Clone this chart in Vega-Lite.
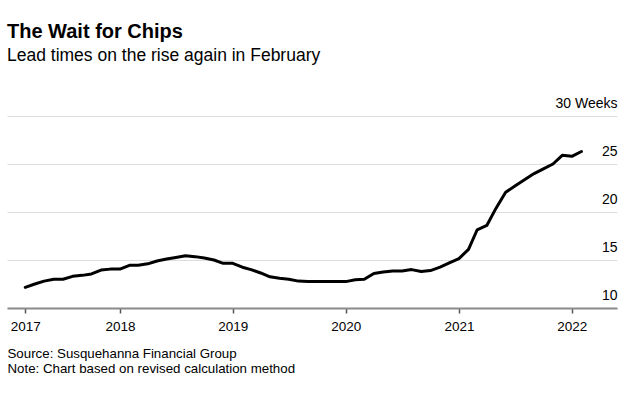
{
  "$schema": "https://vega.github.io/schema/vega-lite/v6.json",
  "width": 610,
  "height": 192,
  "autosize": {"type": "none"},
  "padding": {"left": 7, "top": 116, "right": 18, "bottom": 85},
  "background": "white",
  "config": {
    "font": "Liberation Sans",
    "view": {"stroke": null}
  },
  "title": {
    "text": "The Wait for Chips",
    "subtitle": "Lead times on the rise again in February",
    "anchor": "start",
    "frame": "group",
    "font": "Liberation Sans",
    "fontSize": 20,
    "fontWeight": "bold",
    "color": "#000000",
    "subtitleFont": "Liberation Sans",
    "subtitleFontSize": 17.5,
    "subtitleColor": "#000000",
    "subtitlePadding": 5,
    "offset": 32
  },
  "data": {
    "values": [
      {"date": "2017-03-01", "weeks": 12.15},
      {"date": "2017-04-01", "weeks": 12.5},
      {"date": "2017-05-01", "weeks": 12.8},
      {"date": "2017-06-01", "weeks": 13.0},
      {"date": "2017-07-01", "weeks": 13.0},
      {"date": "2017-08-01", "weeks": 13.3},
      {"date": "2017-09-01", "weeks": 13.4},
      {"date": "2017-10-01", "weeks": 13.55},
      {"date": "2017-11-01", "weeks": 13.95},
      {"date": "2017-12-01", "weeks": 14.05},
      {"date": "2018-01-01", "weeks": 14.05},
      {"date": "2018-02-01", "weeks": 14.45},
      {"date": "2018-03-01", "weeks": 14.45},
      {"date": "2018-04-01", "weeks": 14.6},
      {"date": "2018-05-01", "weeks": 14.9},
      {"date": "2018-06-01", "weeks": 15.1},
      {"date": "2018-07-01", "weeks": 15.27},
      {"date": "2018-08-01", "weeks": 15.45},
      {"date": "2018-09-01", "weeks": 15.35},
      {"date": "2018-10-01", "weeks": 15.2},
      {"date": "2018-11-01", "weeks": 15.0},
      {"date": "2018-12-01", "weeks": 14.65},
      {"date": "2019-01-01", "weeks": 14.65},
      {"date": "2019-02-01", "weeks": 14.25},
      {"date": "2019-03-01", "weeks": 14.0},
      {"date": "2019-04-01", "weeks": 13.65},
      {"date": "2019-05-01", "weeks": 13.25},
      {"date": "2019-06-01", "weeks": 13.1},
      {"date": "2019-07-01", "weeks": 13.0},
      {"date": "2019-08-01", "weeks": 12.8},
      {"date": "2019-09-01", "weeks": 12.75},
      {"date": "2019-10-01", "weeks": 12.75},
      {"date": "2019-11-01", "weeks": 12.75},
      {"date": "2019-12-01", "weeks": 12.75},
      {"date": "2020-01-01", "weeks": 12.75},
      {"date": "2020-02-01", "weeks": 12.95},
      {"date": "2020-03-01", "weeks": 13.0},
      {"date": "2020-04-01", "weeks": 13.6},
      {"date": "2020-05-01", "weeks": 13.75},
      {"date": "2020-06-01", "weeks": 13.85},
      {"date": "2020-07-01", "weeks": 13.85},
      {"date": "2020-08-01", "weeks": 14.0},
      {"date": "2020-09-01", "weeks": 13.8},
      {"date": "2020-10-01", "weeks": 13.9},
      {"date": "2020-11-01", "weeks": 14.25},
      {"date": "2020-12-01", "weeks": 14.7},
      {"date": "2021-01-01", "weeks": 15.15},
      {"date": "2021-02-01", "weeks": 16.1},
      {"date": "2021-03-01", "weeks": 18.15},
      {"date": "2021-04-01", "weeks": 18.6},
      {"date": "2021-05-01", "weeks": 20.4},
      {"date": "2021-06-01", "weeks": 22.05},
      {"date": "2021-07-01", "weeks": 22.7},
      {"date": "2021-08-01", "weeks": 23.35},
      {"date": "2021-09-01", "weeks": 24.0},
      {"date": "2021-10-01", "weeks": 24.5},
      {"date": "2021-11-01", "weeks": 25.0},
      {"date": "2021-12-01", "weeks": 25.9},
      {"date": "2022-01-01", "weeks": 25.8},
      {"date": "2022-02-01", "weeks": 26.3}
    ]
  },
  "mark": {"type": "line", "color": "#000000", "strokeWidth": 3, "strokeCap": "round", "strokeJoin": "round"},
  "encoding": {
    "x": {
      "field": "date",
      "type": "temporal",
      "scale": {
        "type": "utc",
        "domain": [
          {"year": 2017, "month": 1, "date": 1, "utc": true},
          {"year": 2022, "month": 5, "date": 27, "utc": true}
        ]
      },
      "axis": {
        "values": [
          {"year": 2017, "month": 3, "date": 1, "utc": true},
          {"year": 2018, "month": 1, "date": 1, "utc": true},
          {"year": 2019, "month": 1, "date": 1, "utc": true},
          {"year": 2020, "month": 1, "date": 1, "utc": true},
          {"year": 2021, "month": 1, "date": 1, "utc": true},
          {"year": 2022, "month": 1, "date": 1, "utc": true}
        ],
        "labelExpr": "utcFormat(datum.value, '%Y')",
        "grid": false,
        "domain": true,
        "domainColor": "#8a8a8a",
        "domainWidth": 2,
        "ticks": true,
        "tickColor": "#555555",
        "tickWidth": 1.5,
        "tickSize": 5,
        "labelFont": "Liberation Sans",
        "labelFontSize": 13.5,
        "labelColor": "#000000",
        "labelPadding": 6,
        "labelFlush": false,
        "title": ["Source: Susquehanna Financial Group", "Note: Chart based on revised calculation method"],
        "titleAnchor": "start",
        "titleAlign": "left",
        "titleFont": "Liberation Sans",
        "titleFontSize": 13.3,
        "titleFontWeight": "normal",
        "titleColor": "#000000",
        "titleLineHeight": 15,
        "titlePadding": 14
      }
    },
    "y": {
      "field": "weeks",
      "type": "quantitative",
      "scale": {"domain": [10, 30], "nice": false, "zero": false},
      "axis": {
        "orient": "right",
        "values": [10, 15, 20, 25, 30],
        "labelExpr": "datum.value == 30 ? '30 Weeks' : datum.label",
        "domain": false,
        "ticks": false,
        "tickSize": 0,
        "grid": true,
        "gridColor": "#dddddd",
        "gridWidth": 1,
        "labelAlign": "right",
        "labelBaseline": "alphabetic",
        "labelOffset": -9,
        "labelPadding": 0,
        "labelFlush": false,
        "labelFont": "Liberation Sans",
        "labelFontSize": 14,
        "labelColor": "#000000",
        "title": null
      }
    }
  }
}
